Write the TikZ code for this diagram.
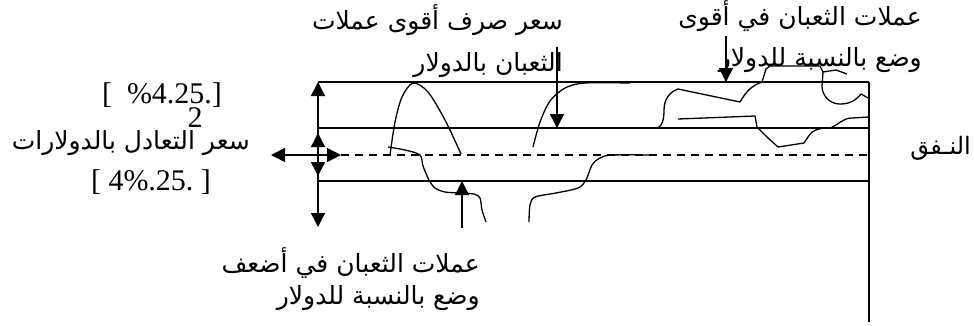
\documentclass[tikz,border=0pt]{standalone}
\usepackage{fontspec}
\setmainfont{Liberation Serif}
\newfontfamily\arabicfont[Script=Arabic]{DejaVu Sans}
\TeXXeTstate=1
\usetikzlibrary{arrows.meta}
\newcommand{\artxt}[1]{\beginR #1\endR}

\begin{document}
\begin{tikzpicture}[x=1pt,y=-1pt,
  ln/.style={line width=1.5pt},
  arr/.style={line width=1.5pt,-{Triangle[length=14pt,width=14pt]}},
  dblarr/.style={line width=1.5pt,{Triangle[length=14pt,width=14pt]}-{Triangle[length=14pt,width=14pt]}},
  crv/.style={line width=1.3pt,line join=round},
  lbl/.style={inner sep=0pt,align=right,anchor=east,font=\fontsize{25}{#1}\arabicfont},
  num/.style={inner sep=0pt,font=\fontsize{30}{34}\selectfont}]
  \useasboundingbox (0,0) rectangle (974,325);
  % band lines
  \foreach \n/\y in {a/82,b/128,d/181} {\coordinate (\n w) at (318,\y); \coordinate (\n e) at (869,\y); \draw[ln] (\n w) -- (\n e);}
  \coordinate (cw) at (341,155); \coordinate (ce) at (869,155);
  \draw[ln,dash pattern=on 8pt off 6pt] (cw) -- (ce);
  \coordinate (rb) at (869,322);
  \draw[ln] (ae) -- (rb);
  % arrows at the left end
  \coordinate (vtop) at (318,82); \coordinate (vbot) at (318,227);
  \coordinate (stop) at (318,133); \coordinate (sbot) at (318,176);
  \coordinate (hl) at (271,155);
  \draw[dblarr] (vtop) -- (vbot);
  \draw[dblarr] (stop) -- (sbot);
  \draw[dblarr] (hl) -- (cw);
  % labels
  \node[lbl=42] (top) at (563,41) {\artxt{سعر صرف أقوى عملات}\\\artxt{الثعبان بالدولار}};
  \node[lbl=41] (strong) at (922,37) {\artxt{عملات الثعبان في أقوى}\\\artxt{وضع بالنسبة للدولار}};
  \node[lbl=32] (weak) at (480,279) {\artxt{عملات الثعبان في أضعف}\\\artxt{وضع بالنسبة للدولار}};
  \node[lbl=30] (par) at (250,143) {\artxt{سعر التعادل بالدولارات}};
  \node[lbl=30,font=\fontsize{24}{30}\arabicfont] (tun) at (971,148) {\artxt{النـفق}};
  \node[num] (up) at (162,95) {[\ \ \%4.25.]};
  \node[num] (lo) at (151,182) {[\ 4\%.25.\ ]};
  \node[num] (two) at (195,118) {2};
  % pointers to the curves
  \coordinate (p1) at (557,47); \coordinate (p1e) at (557,128);
  \coordinate (p2) at (726,36); \coordinate (p2e) at (726,82);
  \coordinate (p3) at (462,228); \coordinate (p3e) at (462,181);
  \draw[arr] (p1) -- (p1e);
  \draw[arr] (p2) -- (p2e);
  \draw[arr] (p3) -- (p3e);
  % curves
  \draw[crv] plot[smooth] coordinates {(390,155) (395,122) (402,97) (413,83) (428,92) (445,120) (461,154)};
  \draw[crv] plot[smooth,tension=0.5] coordinates {(388,147) (405,150) (420,155) (423,166) (429,180) (435,188) (445,192) (460,193) (474,194) (480,198) (482,210) (486,222)};
  \draw[crv] plot[smooth] coordinates {(533,147) (540,122) (550,101) (565,88) (585,83) (630,83)};
  \draw[crv] plot[smooth,tension=0.5] coordinates {(529,222) (530,205) (535,197) (556,193) (578,188) (586,180) (592,165) (600,158) (612,155) (653,155)};
  \draw[crv] (633,128) -- (655,128) to[out=0,in=270] (664,110) to[out=90,in=200] (678,89) -- (740,102)
    to[out=60,in=200] (762,82) -- (766,69) -- (770,66) -- (820,66) -- (823,72) -- (836,70) -- (847,74);
  \draw[crv] (823,72) -- (822,86) to[out=270,in=180] (840,104) to[out=0,in=230] (861,94) -- (868,98);
  \draw[crv] (678,119) -- (755,116) -- (757,127) -- (768,138) -- (778,147) -- (804,143) -- (808,137) to[out=60,in=180] (830,128)
    to[out=20,in=180] (852,118) -- (869,117);
\end{tikzpicture}
\end{document}
